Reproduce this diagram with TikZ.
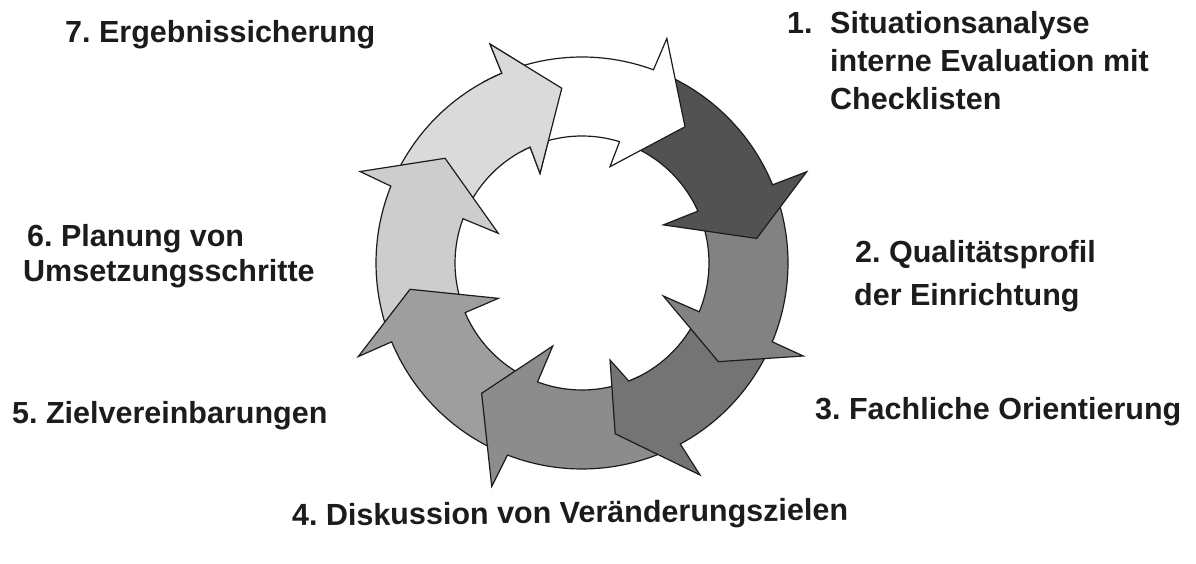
\documentclass[tikz,border=0pt]{standalone}
\usepackage{fontspec}
\setmainfont{Liberation Sans}
\usetikzlibrary{calc}
\frenchspacing
\definecolor{ink}{HTML}{1C1C1C}
\definecolor{c0}{HTML}{FFFFFF}
\definecolor{c1}{HTML}{525252}
\definecolor{c2}{HTML}{828282}
\definecolor{c3}{HTML}{747474}
\definecolor{c4}{HTML}{8C8C8C}
\definecolor{c5}{HTML}{9E9E9E}
\definecolor{c6}{HTML}{CDCDCD}
\definecolor{c7}{HTML}{DADADA}
\begin{document}
\begin{tikzpicture}[x=1pt,y=1pt,
  arrowshape/.style={draw=ink, line width=1.2pt, line join=miter},
  lbl/.style={anchor=base west, inner sep=0pt, text=ink,
    font=\frenchspacing\bfseries\fontsize{30.5}{36}\selectfont}]
\useasboundingbox (0,0) rectangle (1196,564);
\coordinate (C) at (582,301);
% a / outer junction / outer barb / r / tip / r / inner barb / r / inner junction / colour
\foreach \a/\oj/\ob/\obr/\t/\tr/\ib/\ibr/\ij/\col in {
  156.1/112.9/112.8/237.5/96.6/175.9/115.1/99/114.1/c7,
  -159.5/-201.9/-202.4/240/-217.4/172.4/-199.5/88.8/-200.4/c6,
  -113.2/-157.5/-157.3/242.5/-171.3/174/-157.1/90.8/-157.0/c5,
  -63.5/-111.2/-112/241/-127.6/164.5/-109.4/88/-110.5/c4,
  -24.5/-61.5/-60.9/242.6/-79.0/174/-73.9/101/-68.4/c3,
  20.3/-22.5/-22.8/240/-35.9/168.3/-22.1/87.8/-22.6/c2,
  67.7/22.3/22.1/242.5/8.0/176.4/25.1/89.8/24.1/c1,
  110.9/69.7/69.3/240/52.9/170.8/73.8/100.3/72.8/c0}{
  \filldraw[arrowshape, fill=\col]
    ($(C)+(\a:206pt)$) arc[start angle=\a, end angle=\oj, radius=206pt]
    -- ($(C)+(\ob:\obr pt)$) -- ($(C)+(\t:\tr pt)$) -- ($(C)+(\ib:\ibr pt)$)
    -- ($(C)+(\ij:127pt)$) arc[start angle=\ij, end angle=\a, radius=127pt]
    -- cycle;
}
% head of the last arrow lies over the tail of the first one
\begin{scope}
  \clip (C) -- ($(C)+(92:300pt)$) -- ($(C)+(105:300pt)$) -- ($(C)+(119:300pt)$) -- cycle;
  \filldraw[arrowshape, fill=c7]
    ($(C)+(156.1:206pt)$) arc[start angle=156.1, end angle=112.9, radius=206pt]
    -- ($(C)+(112.8:237.5pt)$) -- ($(C)+(96.6:175.9pt)$) -- ($(C)+(115.1:99pt)$)
    -- ($(C)+(114.1:127pt)$) arc[start angle=114.1, end angle=156.1, radius=127pt]
    -- cycle;
\end{scope}
% labels
\node[lbl] (l7) at (65,521) {7. Ergebnissicherung};
\node[lbl] (l1n) at (787,530.7) {1.};
\node[lbl] (l1a) at (830,530.7) {Situationsanalyse};
\node[lbl] (l1b) at (830,492.3) {interne Evaluation mit};
\node[lbl] (l1c) at (830,454) {Checklisten};
\node[lbl] (l2a) at (855,301) {2. Qualitätsprofil};
\node[lbl] (l2b) at (854,258) {der Einrichtung};
\node[lbl] (l3) at (815,144) {3. Fachliche Orientierung};
\node[lbl, rotate=0.6] (l4) at (292,38) {4. Diskussion von Veränderungszielen};
\node[lbl] (l5) at (12,140.7) {5. Zielvereinbarungen};
\node[lbl] (l6a) at (27,317.3) {6. Planung von};
\node[lbl] (l6b) at (23,282.3) {Umsetzungsschritte};
\end{tikzpicture}
\end{document}
